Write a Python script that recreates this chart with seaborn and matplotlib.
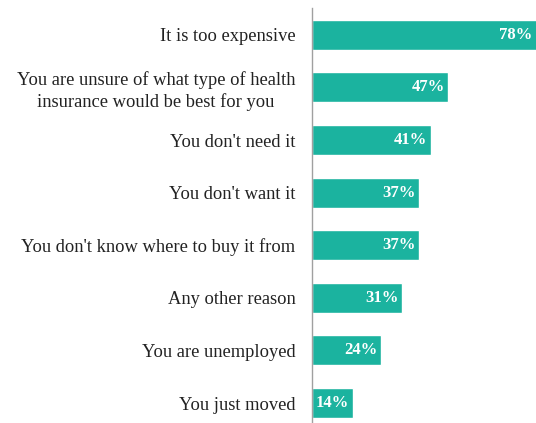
import matplotlib
matplotlib.use("Agg")
import matplotlib.pyplot as plt
import seaborn as sns
import pandas as pd

categories = [
    "It is too expensive",
    "You are unsure of what type of health\ninsurance would be best for you",
    "You don't need it",
    "You don't want it",
    "You don't know where to buy it from",
    "Any other reason",
    "You are unemployed",
    "You just moved",
]
values = [78, 47, 41, 37, 37, 31, 24, 14]
value_labels = ["78%", "47%", "41%", "37%", "37%", "31%", "24%", "14%"]

sns.set_style("white")
plt.rcParams['font.family'] = ['Liberation Serif', 'DejaVu Serif']

df = pd.DataFrame({"reason": categories, "pct": values})

fig = plt.figure(figsize=(5.36, 4.23), dpi=100)
ax = fig.add_axes([312/536, 0, 1 - 312/536, 1 - 8/423])
sns.barplot(data=df, y="reason", x="pct", orient="h", color="#1BB39F",
            saturation=1, width=0.57, ax=ax)
ax.set_xlim(0, 77.4)
ax.set_ylim(7.38, -0.51)
ax.set_xlabel("")
ax.set_ylabel("")
ax.set_xticks([])
for s in ["top", "right", "bottom"]:
    ax.spines[s].set_visible(False)
ax.spines["left"].set_color("#A0A0A0")
ax.spines["left"].set_linewidth(1.0)
ax.tick_params(axis="y", length=0, pad=12)
ax.set_yticklabels(categories, fontsize=13.3, color="#222222", ha="right",
                   multialignment="center", linespacing=1.25)

for i, (v, t) in enumerate(zip(values, value_labels)):
    xpos = min(v, 77.4) - 1.2
    ax.text(xpos, i, t, ha="right", va="center", color="white",
            fontsize=12, fontweight="bold", clip_on=False)

fig.savefig("out.png", dpi=100)
